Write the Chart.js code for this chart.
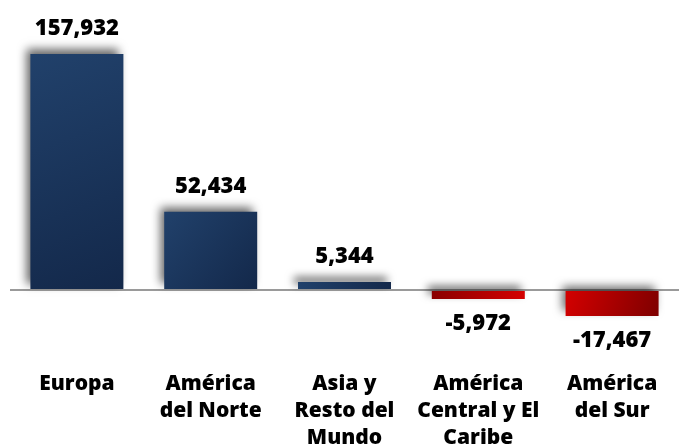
<!DOCTYPE html>
<html>
<head>
<meta charset="utf-8">
<script src="https://cdn.jsdelivr.net/npm/chart.js@4.4.1/dist/chart.umd.min.js"></script>
<style>
  body { margin: 0; background: #fff; }
</style>
</head>
<body>
<canvas id="regions-chart" width="679" height="446"></canvas>
<script>
const regionLabels = [
  "Europa",
  ["América", "del Norte"],
  ["Asia y", "Resto del", "Mundo"],
  ["América", "Central y El", "Caribe"],
  ["América", "del Sur"],
];
const regionValues = [157932, 52434, 5344, -5972, -17467];

const chartCanvas = document.getElementById("regions-chart").getContext("2d");

// bar gradient colours
const positiveColors = ["#21416b", "#13284a"];
const negativeColors = ["#8a0000", "#d40000"];
const negativeColorsFlip = ["#d40000", "#7e0000"];

const barPct = 0.695;

function barGradient(context) {
  const chart = context.chart;
  if (!chart.chartArea) return positiveColors[0];
  const i = context.dataIndex;
  const v = regionValues[i];
  const xs = chart.scales.x;
  const ys = chart.scales.y;
  const cx = xs.getPixelForValue(i);
  const half = (xs.width / regionValues.length) * barPct / 2;
  const yTop = ys.getPixelForValue(Math.max(v, 0));
  const yBot = ys.getPixelForValue(Math.min(v, 0));
  let cols = positiveColors;
  let g = chart.ctx.createLinearGradient(cx - half, yTop, cx + half, yBot);
  if (v < 0) {
    if (i === 3) {
      cols = negativeColors;
      g = chart.ctx.createLinearGradient(cx - half, 0, cx + half, 0);
    } else {
      cols = negativeColorsFlip;
    }
  }
  g.addColorStop(0, cols[0]);
  g.addColorStop(1, cols[1]);
  return g;
}

// soft shadow behind bars + value labels
const barDecor = {
  id: "barDecor",
  beforeDatasetsDraw(chart) {
    const ctx = chart.ctx;
    ctx.save();
    ctx.shadowColor = "rgba(0, 0, 0, 0.6)";
    ctx.shadowBlur = 9;
    ctx.shadowOffsetX = -4;
    ctx.shadowOffsetY = -5;
  },
  afterDatasetsDraw(chart) {
    const ctx = chart.ctx;
    ctx.restore();
    ctx.save();
    ctx.font = "800 22px 'Open Sans'";
    ctx.fillStyle = "#000";
    ctx.textAlign = "center";
    ctx.textBaseline = "alphabetic";
    const meta = chart.getDatasetMeta(0);
    meta.data.forEach((bar, i) => {
      const v = regionValues[i];
      const txt = v.toLocaleString("en-US");
      if (v >= 0) {
        ctx.fillText(txt, bar.x, bar.y - 19);
      } else {
        ctx.fillText(txt, bar.x, bar.y + 31);
      }
    });
    ctx.restore();
  },
};

new Chart(chartCanvas, {
  type: "bar",
  data: {
    labels: regionLabels,
    datasets: [
      {
        data: regionValues,
        backgroundColor: barGradient,
        borderWidth: 0,
        categoryPercentage: 1,
        barPercentage: barPct,
      },
    ],
  },
  options: {
    responsive: false,
    animation: false,
    layout: { padding: { left: 10, right: 0, top: 0, bottom: 0 } },
    plugins: {
      legend: { display: false },
      tooltip: { enabled: false },
    },
    scales: {
      x: {
        grid: { display: false },
        border: { display: false },
        ticks: {
          color: "#000",
          padding: -7,
          maxRotation: 0,
          autoSkip: false,
          font: { family: "'Open Sans'", size: 21, weight: 800, lineHeight: 1.29 },
        },
        afterFit(axis) {
          axis.height = 77;
        },
      },
      y: {
        min: -52870,
        max: 194070,
        border: { display: false },
        ticks: { display: false },
        grid: {
          drawTicks: false,
          lineWidth: 2,
          color: (c) => (c.tick && c.tick.value === 0 ? "#9a9a9a" : "transparent"),
        },
        afterBuildTicks(axis) {
          axis.ticks = [{ value: 0 }];
        },
      },
    },
  },
  plugins: [barDecor],
});
</script>
</body>
</html>
